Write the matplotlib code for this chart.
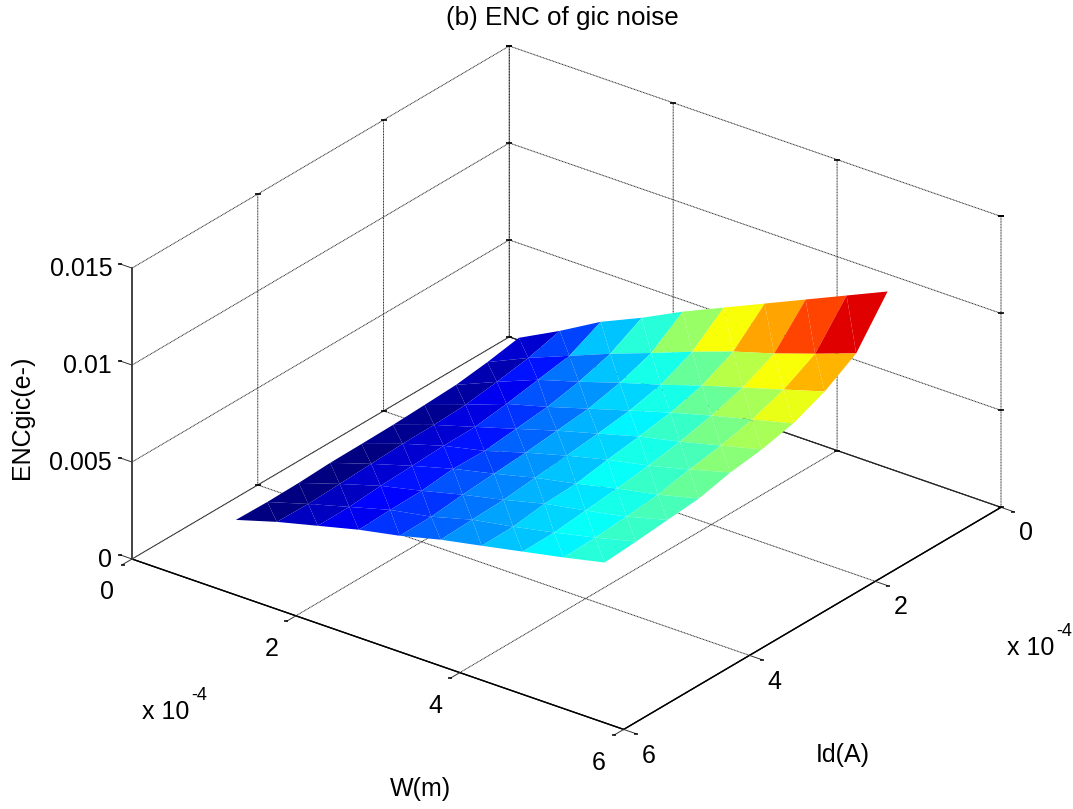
import numpy as np
import matplotlib
matplotlib.use('Agg')
import matplotlib.pyplot as plt
from mpl_toolkits.mplot3d import proj3d
from mpl_toolkits.mplot3d.art3d import Poly3DCollection

plt.rcParams['font.family'] = ['Liberation Sans', 'DejaVu Sans']
plt.rcParams['grid.color'] = '#222222'
plt.rcParams['grid.linewidth'] = 0.7
plt.rcParams['grid.linestyle'] = (0, (1.0, 0.6))

W = np.array([0.5, 1, 1.5, 2, 2.5, 3, 3.5, 4, 4.5, 5]) * 1e-4
Id = np.array([0.5, 1, 1.5, 2, 2.5, 3, 3.5, 4, 4.5, 5]) * 1e-4

# one row per Id value, one column per W value (units of 1e-3)
enc_gic = np.array([
    [1.64, 2.73, 3.93, 4.87, 5.92, 6.86, 7.80, 8.74, 9.68, 10.62],
    [1.34, 2.29, 3.13, 3.97, 4.74, 5.54, 6.28, 6.91, 7.63, 8.38],
    [1.12, 2.01, 2.85, 3.48, 4.16, 4.79, 5.48, 6.11, 6.74, 7.37],
    [1.04, 1.78, 2.56, 3.14, 3.78, 4.41, 5.04, 5.62, 6.15, 6.68],
    [0.97, 1.70, 2.33, 2.96, 3.60, 4.18, 4.76, 5.23, 5.76, 6.29],
    [0.94, 1.68, 2.31, 2.78, 3.42, 4.00, 4.52, 4.95, 5.48, 6.06],
    [0.92, 1.60, 2.23, 2.81, 3.29, 3.81, 4.24, 4.72, 5.14, 5.67],
    [0.84, 1.52, 2.15, 2.63, 3.16, 3.63, 4.16, 4.54, 4.96, 5.52],
    [0.81, 1.44, 2.02, 2.60, 2.98, 3.56, 3.93, 4.36, 4.83, 5.36],
    [0.84, 1.47, 2.00, 2.53, 2.95, 3.48, 3.90, 4.33, 4.76, 5.23],
]) * 1e-3

x_ticks = np.array([0, 2, 4, 6]) * 1e-4
y_ticks = np.array([0, 2, 4, 6]) * 1e-4
z_ticks = [0, 0.005, 0.01, 0.015]
x_labels = ['0', '2', '4', '6']
y_labels = ['0', '2', '4', '6']
z_labels = ['0', '0.005', '0.01', '0.015']

FS = 18
fig = plt.figure(figsize=(10.73, 8.09), dpi=100)
ax = fig.add_subplot(projection='3d', proj_type='ortho', computed_zorder=False)
ax.apply_aspect = lambda position=None: None  # image is stretched, keep it
ax.view_init(elev=30, azim=-52.5)
ax.set_box_aspect((620, 620, 372))
ax.set_xlim(0, 6e-4, view_margin=0)
ax.set_ylim(6e-4, 0, view_margin=0)
ax.set_zlim(0, 0.015, view_margin=0)

# flat shading: every quad takes the colour of its first corner
jet = matplotlib.colors.LinearSegmentedColormap('matlab_jet', {
    'red': [(0, 0, 0), (0.375, 0, 0), (0.625, 1, 1), (0.875, 1, 1), (1, 0.5, 0.5)],
    'green': [(0, 0, 0), (0.125, 0, 0), (0.375, 1, 1), (0.625, 1, 1), (0.875, 0, 0), (1, 0, 0)],
    'blue': [(0, 0.5, 0.5), (0.125, 1, 1), (0.375, 1, 1), (0.625, 0, 0), (1, 0, 0)],
}, N=64)
norm = plt.Normalize(enc_gic.min(), enc_gic.max())
tris = []
cols = []
for j in range(len(Id) - 1):
    for i in range(len(W) - 1):
        a = (W[i], Id[j], enc_gic[j, i])
        b = (W[i + 1], Id[j], enc_gic[j, i + 1])
        c = (W[i + 1], Id[j + 1], enc_gic[j + 1, i + 1])
        d = (W[i], Id[j + 1], enc_gic[j + 1, i])
        tris += [[a, b, c], [a, c, d]]
        cols += [jet(norm(enc_gic[j, i]))] * 2
surf = Poly3DCollection(tris, facecolors=cols, edgecolors='none', linewidths=0,
                        antialiased=True, zorder=5)
ax.add_collection3d(surf)

ax.set_xticks(x_ticks)
ax.set_yticks(y_ticks)
ax.set_zticks(z_ticks)
ax.set_xticklabels(x_labels)
ax.set_yticklabels(y_labels)
ax.set_zticklabels(z_labels)
ax.tick_params(axis='x', labelsize=FS, pad=13.5)
ax.tick_params(axis='y', labelsize=FS, pad=8.9)
ax.tick_params(axis='z', labelsize=FS, pad=-0.5)
for t in ax.get_xticklabels():
    t.set_va('center')
for t in ax.get_yticklabels():
    t.set_va('center_baseline')
    t.set_ha('center')
for t in ax.get_zticklabels():
    t.set_ha('right')
    t.set_va('center')

ax.zaxis._axinfo['juggled'] = (1, 2, 0)  # z axis on the left edge
for axis in (ax.xaxis, ax.yaxis, ax.zaxis):
    axis.set_pane_color((1, 1, 1, 1))
    axis.pane.set_edgecolor('none')
    axis.line.set_color('k')
    axis.line.set_linewidth(1.0)
    axis._axinfo['tick']['inward_factor'] = 0
    axis._axinfo['tick']['outward_factor'] = 0
ax.zaxis.line.set_color('#444444')
ax.zaxis.line.set_linewidth(1.4)
ax.zaxis.pane.set_edgecolor('#333333')
ax.zaxis.pane.set_linewidth(0.9)

# outward tick marks with their small end dashes
TL = 0.025
for t in x_ticks:
    ax.plot([t, t], [6e-4, 6e-4 * (1 + TL)], [0, 0], color='#333333', lw=0.7, zorder=1)
    ax.scatter([t], [6e-4 * (1 + TL)], [0], marker='_', s=8, c='k', linewidths=1.1, depthshade=False, zorder=1)
for t in y_ticks:
    ax.plot([6e-4, 6e-4 * (1 + TL)], [t, t], [0, 0], color='#333333', lw=0.7, zorder=1)
    ax.scatter([6e-4 * (1 + TL)], [t], [0], marker='_', s=8, c='k', linewidths=1.1, depthshade=False, zorder=1)
for t in z_ticks:
    ax.plot([0, -6e-4 * TL], [6e-4, 6e-4], [t, t], color='#333333', lw=0.7, zorder=1)
    ax.scatter([-6e-4 * TL], [6e-4], [t], marker='_', s=8, c='k', linewidths=1.1, depthshade=False, zorder=1)

# small dashes where grid lines end on the far box edges
for z_end in (0, 0.015):
    ax.scatter([0] * 3, y_ticks[:3], [z_end] * 3, marker='_', s=22, c='k', linewidths=1.2, depthshade=False, zorder=1)
    ax.scatter(x_ticks[1:], [0] * 3, [z_end] * 3, marker='_', s=22, c='k', linewidths=1.2, depthshade=False, zorder=1)
ax.scatter([6e-4] * 3, [0] * 3, z_ticks[1:], marker='_', s=22, c='k', linewidths=1.2, depthshade=False, zorder=1)
ax.scatter([0] * 3, [0] * 3, z_ticks[1:], marker='_', s=22, c='k', linewidths=1.2, depthshade=False, zorder=1)

# place the axes so the box corners land where they are in the picture
M = ax.get_proj()
cx, cy, _ = proj3d.proj_transform(np.array([0, 6e-4]), np.array([6e-4, 0]), np.array([0.0, 0.0]), M)
pts = ax.transAxes.inverted().transform(ax.transData.transform(np.c_[cx, cy]))
tx, ty, _ = proj3d.proj_transform(np.array([0.0]), np.array([0.0]), np.array([0.015]), M)
top = ax.transAxes.inverted().transform(ax.transData.transform(np.c_[tx, ty]))[0]
w = (1001 - 132) / (pts[1, 0] - pts[0, 0])
L = 132 - w * pts[0, 0]
h = ((809 - 46) - (809 - 559)) / (top[1] - pts[0, 1])
B = (809 - 559) - h * pts[0, 1]
ax.set_position([L / 1073, B / 809, w / 1073, h / 809])


def label(x, y, s, **kw):
    fig.text(x / 1073, 1 - y / 809, s, ha=kw.pop('ha', 'center'), va='center', **kw)


label(562, 18, '(b) ENC of gic noise', fontsize=18.7)
label(420, 789, 'W(m)', fontsize=FS)
label(843, 755, 'Id(A)', fontsize=FS)
label(22, 417, 'ENCgic(e-)', fontsize=FS, rotation=90)
# power of ten written in two pieces, the exponent has a plain hyphen
for x0, y0 in [(142, 712), (1007, 648)]:
    label(x0, y0, 'x 10', fontsize=FS, ha='left')
    label(x0 + 49, y0 - 16, '-4', fontsize=13, ha='left')

fig.savefig('out.png', dpi=100)
